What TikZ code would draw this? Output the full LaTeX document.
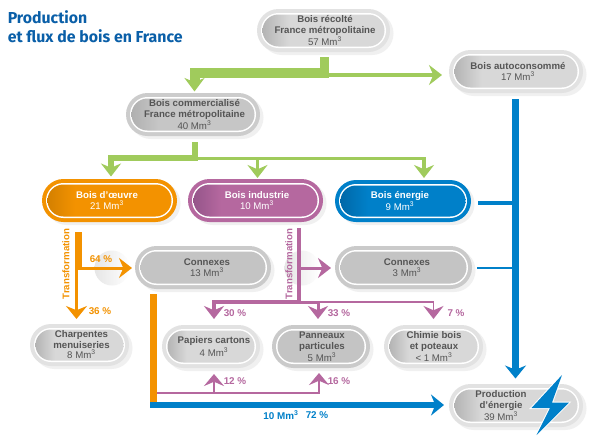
\documentclass[tikz,border=0pt]{standalone}
\usepackage{fontspec}
\setmainfont{Liberation Sans}
\newfontfamily\titlefont{Fira Sans}
\usetikzlibrary{arrows.meta,calc}
\definecolor{cgreen}{HTML}{A0CB5C}
\definecolor{corange}{HTML}{F39200}
\definecolor{cpurple}{HTML}{B5689F}
\definecolor{cblue}{HTML}{0080C9}
\definecolor{ctitle}{HTML}{0A5FA8}
\definecolor{ringlight}{HTML}{E2E2E2}
\definecolor{filllight}{HTML}{D8D8D8}
\definecolor{leftlight}{HTML}{B4B4B4}
\definecolor{txtlight}{HTML}{555555}
\definecolor{ringmid}{HTML}{CACACA}
\definecolor{fillmid}{HTML}{C4C4C4}
\definecolor{leftmid}{HTML}{C4C4C4}
\definecolor{txtmid}{HTML}{555555}
\definecolor{ringdark}{HTML}{CCCCCC}
\definecolor{filldark}{HTML}{C6C6C6}
\definecolor{leftdark}{HTML}{B0B0B0}
\definecolor{txtdark}{HTML}{555555}
\definecolor{ringorange}{HTML}{F39200}
\definecolor{fillorange}{HTML}{F39200}
\definecolor{leftorange}{HTML}{D48000}
\definecolor{txtorange}{HTML}{FFFFFF}
\definecolor{ringpurple}{HTML}{B5689F}
\definecolor{fillpurple}{HTML}{B5689F}
\definecolor{leftpurple}{HTML}{95558A}
\definecolor{txtpurple}{HTML}{FFFFFF}
\definecolor{ringblue}{HTML}{0080C9}
\definecolor{fillblue}{HTML}{0080C9}
\definecolor{leftblue}{HTML}{0068A8}
\definecolor{txtblue}{HTML}{FFFFFF}
\colorlet{shA}{black}\colorlet{shB}{white}
\pgfdeclarehorizontalshading[shA,shB]{pillshade}{100bp}{color(0bp)=(shA); color(25bp)=(shA); color(36bp)=(shB); color(100bp)=(shB)}
\newcommand{\ucube}{Mm\textsuperscript{3}}
% name, x0, y0, x1, y1, kind, text dx, text
\newcommand{\pill}[8]{%
  \pgfmathsetmacro\cxx{(#2+#4)/2}%
  \pgfmathsetmacro\cyy{(#3+#5)/2}%
  \pgfmathsetmacro\pww{(#4-#2)*0.75}%
  \pgfmathsetmacro\phh{(#5-#3)*0.75}%
  \pgfmathsetmacro\rA{(#5-#3)*0.375}%
  \pgfmathsetmacro\rB{(#5-#3-8)*0.375}%
  \pgfmathsetmacro\rC{(#5-#3-11)*0.375}%
  \colorlet{shA}{left#6}\colorlet{shB}{fill#6}%
  \fill[pillshadow,rounded corners=\rA pt] (#2+3.5,#3+3) rectangle (#4+3.5,#5+3);
  \fill[ring#6,rounded corners=\rA pt] (#2,#3) rectangle (#4,#5);
  \fill[white,rounded corners=\rB pt] (#2+4,#3+4) rectangle (#4-4,#5-4);
  \shade[shading=pillshade,rounded corners=\rC pt] (#2+5.5,#3+5.5) rectangle (#4-5.5,#5-5.5);
  \node[pillbox,minimum width=\pww pt,minimum height=\phh pt] (#1) at (\cxx,\cyy) {};
  \node[pilltext,text=txt#6] (#1t) at (\cxx+#7,\cyy) {#8};
}
\tikzset{
  x=0.75pt,y=-0.75pt,
  lw/.style={line width=#1*0.75pt},
  pillshadow/.style={fill=black!6},
  pillbox/.style={inner sep=0pt,outer sep=0pt},
  pilltext/.style={align=center,inner sep=0pt,font=\fontsize{7.25}{7.9}\selectfont},
  tip/.style n args={2}{-{Stealth[length=#1*0.75pt,width=#2*0.75pt,inset=3.2pt]}},
  gline/.style={draw=cgreen},
  oline/.style={draw=corange},
  pline/.style={draw=cpurple},
  bline/.style={draw=cblue},
  pct/.style={inner sep=0pt,font=\fontsize{7.4}{8}\selectfont\bfseries},
  transf/.style={inner sep=0pt,rotate=90,font=\fontsize{7.25}{8}\selectfont\bfseries},
}
\begin{document}
\begin{tikzpicture}
\useasboundingbox (0,0) rectangle (596,436);
\fill[white] (0,0) rectangle (596,436);
% halos
\shade[left color=black!10,right color=white] (112,268) circle[radius=17.5];
\shade[left color=black!10,right color=white] (302,268) circle[radius=17.5];
% pills
\pill{rec}{257}{9}{390}{52}{light}{1.5}{\textbf{Bois récolté}\\\textbf{France métropolitaine}\\57 \ucube}
\pill{com}{126}{93}{260}{136}{dark}{1.5}{\textbf{Bois commercialisé}\\\textbf{France métropolitaine}\\40 \ucube}
\pill{auto}{449}{50}{583}{93}{light}{2}{\textbf{Bois autoconsommé}\\17 \ucube}
\pill{oeu}{42}{179}{177}{222}{orange}{-2.5}{\textbf{Bois d’œuvre}\\21 \ucube}
\pill{ind}{188}{179}{323}{222}{purple}{1.5}{\textbf{Bois industrie}\\10 \ucube}
\pill{ene}{335}{180}{471}{222}{blue}{-3}{\textbf{Bois énergie}\\9 \ucube}
\pill{conA}{135}{246}{271}{289}{mid}{4}{\textbf{Connexes}\\13 \ucube}
\pill{conB}{335}{246}{472}{289}{mid}{3.5}{\textbf{Connexes}\\3 \ucube}
\pill{cha}{30}{324}{129}{366}{light}{2}{\textbf{Charpentes}\\\textbf{menuiseries}\\8 \ucube}
\pill{pap}{162}{325}{260}{368}{light}{3}{\textbf{Papiers cartons}\\4 \ucube}
\pill{pan}{272}{325}{370}{368}{mid}{1}{\textbf{Panneaux}\\\textbf{particules}\\5 \ucube}
\pill{chi}{384}{325}{483}{368}{light}{0.5}{\textbf{Chimie bois}\\\textbf{et poteaux}\\< 1 \ucube}
\pill{pro}{449}{384}{583}{427}{light}{-15}{\textbf{Production}\\\textbf{d’énergie}\\39 \ucube}
% green
\coordinate (jA) at ($(rec.south)+(1,21)$);
\coordinate (jB) at ($(rec.south)+(1,23)$);
\draw[gline,lw=9] ($(rec.south)+(1,5)$) -- ($(rec.south)+(1,26)$);
\draw[gline,lw=10,tip={13.5}{20}] (jA) -| ($(com.north)+(1.5,-1.5)$);
\draw[gline,lw=4,tip={13}{20}] (jB) -- ($(auto.west)+(-7,3.5)$);
\coordinate (jC) at ($(com.south)+(2,21.5)$);
\coordinate (jD) at ($(com.south)+(2,22.5)$);
\draw[gline,lw=6.5] ($(com.south)+(2,6)$) -- ($(com.south)+(2,24.5)$);
\draw[gline,lw=6,tip={13}{20}] (jC) -| ($(oeu.north)+(1.5,-2.5)$);
\draw[gline,lw=3.5,tip={13}{20}] (jD) -| ($(ene.north)+(21,-2)$);
\draw[gline,lw=3,tip={13}{20}] ($(ind.north)+(2,-20.5)$) -- ($(ind.north)+(2,-1)$);
% blue
\coordinate (bT) at ($(auto.south)+(-0.5,6)$);
\draw[bline,lw=6.5,tip={13}{21}] (bT) -- ($(pro.north)+(-0.5,-5.5)$);
\draw[bline,lw=3.5] ($(ene.east)+(7,2)$) -- ($(ene.east)+(44,2)$);
\draw[bline,lw=2] ($(conB.east)+(5,0.5)$) -- ($(conB.east)+(43,0.5)$);
\draw[bline,lw=6.5,tip={13}{21}] ($(conA.south)+(-53,116)$) -- ($(pro.west)+(-5,-0.5)$);
% orange
\coordinate (oJ) at ($(oeu.south)+(-33,46)$);
\draw[oline,lw=7] ($(oeu.south)+(-31,10)$) -- ($(oeu.south)+(-31,47)$);
\draw[oline,lw=2.5,tip={13}{21}] (oJ) -- ($(cha.north)+(-3,-5)$);
\draw[oline,lw=3,tip={13}{20}] (oJ) -- ($(conA.west)+(-3,0.5)$);
\draw[oline,lw=7] ($(conA.south)+(-49.5,5)$) -- ($(conA.south)+(-49.5,113)$);
% purple
\coordinate (pJ) at ($(ind.south)+(43.5,46)$);
\coordinate (pK) at ($(ind.south)+(43.5,80)$);
\coordinate (pL) at ($(pan.north)+(-3,-23)$);
\draw[pline,lw=3.5] ($(ind.south)+(43.5,6)$) -- ($(ind.south)+(43.5,82)$);
\draw[pline,lw=3,tip={13}{20}] (pJ) -- ($(conB.west)+(-4,0.5)$);
\draw[pline,lw=4,tip={13}{20}] (pK) -| ($(pap.north)+(3,-6)$);
\draw[pline,lw=3,tip={13}{20}] (pK) -| ($(pan.north)+(-3,-6)$);
\draw[pline,lw=1.7,tip={13}{20}] (pL) -| ($(chi.north)+(0,-6)$);
\coordinate (pM) at ($(conA.south)+(-46,104)$);
\draw[pline,lw=2,tip={12}{20}] (pM) -| ($(pan.south)+(-2,5)$);
\draw[pline,lw=2,tip={12}{20}] ($(pap.south)+(3,25)$) -- ($(pap.south)+(3,6)$);
% bolt
\draw[draw=white,fill=white,lw=2,line join=miter] (562,375) -- (531.5,408) -- (550,408) -- (536.5,435) -- (569,402.5) -- (552,402.5) -- cycle;
\fill[cblue] (562,375) -- (531.5,408) -- (550,408) -- (536.5,435) -- (569,402.5) -- (552,402.5) -- cycle;
% labels
\node[pct,text=corange] (lA) at (101,259) {64 \%};
\node[pct,text=corange] (lB) at (100,311) {36 \%};
\node[pct,text=cpurple] (lC) at (235,313.5) {30 \%};
\node[pct,text=cpurple] (lD) at (339,313.5) {33 \%};
\node[pct,text=cpurple] (lE) at (456,313.5) {7 \%};
\node[pct,text=cpurple] (lF) at (235,381) {12 \%};
\node[pct,text=cpurple] (lG) at (339,381) {16 \%};
\node[pct,text=cblue] (lH) at (281,415.5) {10 \ucube};
\node[pct,text=cblue] (lI) at (317,415.5) {72 \%};
\node[transf,text=corange] (tA) at (66,264) {Transformation};
\node[transf,text=cpurple] (tB) at (289,264) {Transformation};
\node[anchor=west,align=left,inner sep=0pt,text=ctitle,font=\titlefont\fontsize{11.9}{14.25}\selectfont\bfseries] (title) at (7.5,26.5) {Production\\et flux de bois en France};
\end{tikzpicture}
\end{document}
